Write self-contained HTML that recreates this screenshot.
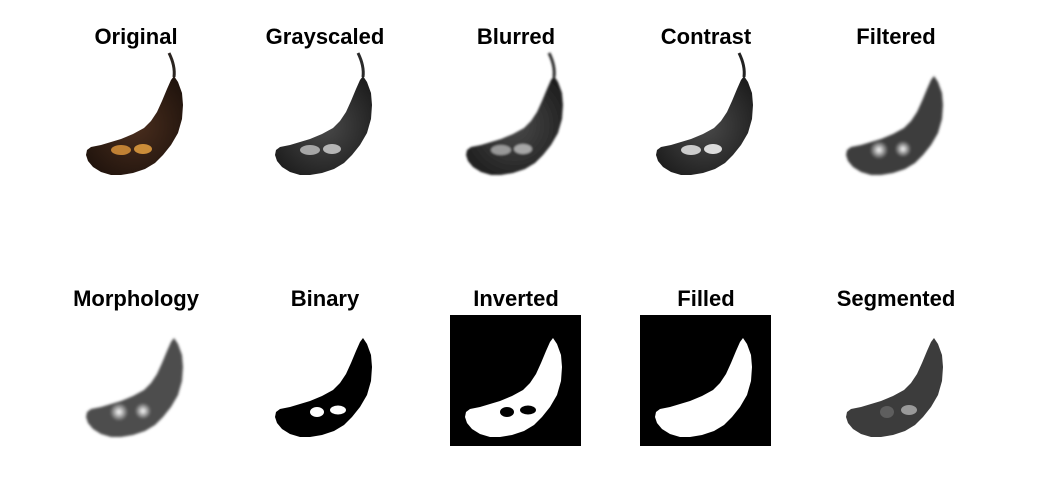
<!DOCTYPE html>
<html><head><meta charset="utf-8"><style>
html,body{margin:0;padding:0;background:#fff;}
svg{display:block;}
text{font-family:"Liberation Sans",Arial,sans-serif;font-weight:bold;font-size:22px;text-anchor:middle;fill:#000;}
</style></head><body>
<svg width="1054" height="477" viewBox="0 0 1054 477">
<defs>
<path id="ban" d="M103,23 L107,29 L111,40 L112,52 L111,66 L107,80 L100,92 L92,102 L84,110 L74,116 L62,120 L50,122 L40,122 L30,119 L22,114 L17,108 L15,102 L16,97 L20,94 L30,92 L40,89 L50,86 L62,81 L73,75 L80,68 L86,59 L91,48 L96,36 L100,27 Z"/>
<radialGradient id="gr" cx="0.5" cy="0.5" r="0.6"><stop offset="0" stop-color="#4a4a4a"/><stop offset="1" stop-color="#1e1e1e"/></radialGradient>
<radialGradient id="br" cx="0.5" cy="0.5" r="0.6"><stop offset="0" stop-color="#4a2e1e"/><stop offset="1" stop-color="#21140d"/></radialGradient>
<radialGradient id="glow" cx="0.5" cy="0.5" r="0.5"><stop offset="0" stop-color="#fff"/><stop offset="1" stop-color="#fff" stop-opacity="0"/></radialGradient>
<filter id="blur1"><feGaussianBlur stdDeviation="1"/></filter>
<filter id="blur2"><feGaussianBlur stdDeviation="1.4"/></filter>
</defs>

<g>
<text x="136" y="44">Original</text>
<g transform="translate(71,53)">
<path d="M98,0 C102,8 104,16 103,24" stroke="#2a2420" stroke-width="3" fill="none"/>
<use href="#ban" fill="url(#br)"/>
<ellipse cx="50" cy="97" rx="10" ry="5" fill="#d8923a" opacity="0.85"/>
<ellipse cx="72" cy="96" rx="9" ry="5" fill="#e5a040" opacity="0.85"/>
</g></g>

<g>
<text x="325" y="44">Grayscaled</text>
<g transform="translate(260,53)">
<path d="M98,0 C102,8 104,16 103,24" stroke="#2a2a2a" stroke-width="3" fill="none"/>
<use href="#ban" fill="url(#gr)"/>
<ellipse cx="50" cy="97" rx="10" ry="5" fill="#bbb" opacity="0.85"/>
<ellipse cx="72" cy="96" rx="9" ry="5" fill="#ccc" opacity="0.85"/>
</g></g>

<g>
<text x="516" y="44">Blurred</text>
<g transform="translate(451,53)" filter="url(#blur1)">
<path d="M98,0 C102,8 104,16 103,24" stroke="#2a2a2a" stroke-width="3" fill="none"/>
<use href="#ban" fill="url(#gr)"/>
<ellipse cx="50" cy="97" rx="10" ry="5" fill="#aaa" opacity="0.85"/>
<ellipse cx="72" cy="96" rx="9" ry="5" fill="#bbb" opacity="0.85"/>
</g></g>

<g>
<text x="706" y="44">Contrast</text>
<g transform="translate(641,53)">
<path d="M98,0 C102,8 104,16 103,24" stroke="#222" stroke-width="3" fill="none"/>
<use href="#ban" fill="url(#gr)"/>
<ellipse cx="50" cy="97" rx="10" ry="5" fill="#ddd" opacity="0.9"/>
<ellipse cx="72" cy="96" rx="9" ry="5" fill="#eee" opacity="0.9"/>
</g></g>

<g>
<text x="896" y="44">Filtered</text>
<g transform="translate(831,53)" filter="url(#blur2)">
<use href="#ban" fill="#3e3e3e"/>
<circle cx="48" cy="97" r="9" fill="url(#glow)"/>
<circle cx="72" cy="96" r="8" fill="url(#glow)"/>
</g></g>

<g>
<text x="136" y="306">Morphology</text>
<g transform="translate(71,315)" filter="url(#blur2)">
<use href="#ban" fill="#4e4e4e"/>
<circle cx="48" cy="97" r="9" fill="url(#glow)"/>
<circle cx="72" cy="96" r="8" fill="url(#glow)"/>
</g></g>

<g>
<text x="325" y="306">Binary</text>
<g transform="translate(260,315)">
<use href="#ban" fill="#000"/>
<ellipse cx="57" cy="97" rx="7" ry="5" fill="#fff"/>
<ellipse cx="78" cy="95" rx="8" ry="4.5" fill="#fff"/>
</g></g>

<g>
<text x="516" y="306">Inverted</text>
<g transform="translate(450,315)">
<rect width="131" height="131" fill="#000"/>
<use href="#ban" fill="#fff"/>
<ellipse cx="57" cy="97" rx="7" ry="5" fill="#000"/>
<ellipse cx="78" cy="95" rx="8" ry="4.5" fill="#000"/>
</g></g>

<g>
<text x="706" y="306">Filled</text>
<g transform="translate(640,315)">
<rect width="131" height="131" fill="#000"/>
<use href="#ban" fill="#fff"/>
</g></g>

<g>
<text x="896" y="306">Segmented</text>
<g transform="translate(831,315)">
<use href="#ban" fill="#3c3c3c"/>
<ellipse cx="56" cy="97" rx="7" ry="6" fill="#5e5e5e"/>
<ellipse cx="78" cy="95" rx="8" ry="5" fill="#9a9a9a"/>
</g></g>
</svg>
</body></html>
